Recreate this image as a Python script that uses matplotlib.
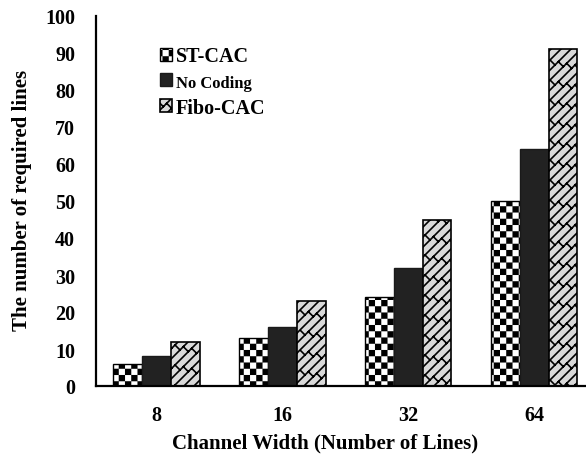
import numpy as np
import matplotlib
matplotlib.use("Agg")
import matplotlib.pyplot as plt
import matplotlib.hatch as mhatch
from matplotlib.path import Path

# data
widths = ["8", "16", "32", "64"]
st_cac = [6, 13, 24, 50]
no_coding = [8, 16, 32, 64]
fibo_cac = [12, 23, 45, 91]
series_names = ["ST-CAC", "No Coding", "Fibo-CAC"]


class CheckerHatch(mhatch.HatchPatternBase):
    """Checkerboard hatch, drawn for the '*' character."""
    inset = 0.008

    def __init__(self, hatch, density):
        n = hatch.count('*') * 16
        self.n = n
        self.num_vertices = 5 * (n * n // 2) if n else 0

    def set_vertices_and_codes(self, vertices, codes):
        n = self.n
        s = 1.0 / n
        a, b = self.inset, s - self.inset
        sq = np.array([[a, a], [b, a], [b, b], [a, b], [a, a]], dtype=float)
        sq_codes = [Path.MOVETO, Path.LINETO, Path.LINETO, Path.LINETO, Path.CLOSEPOLY]
        v_parts, c_parts = [], []
        for r in range(n):
            for c in range(r % 2, n, 2):
                v_parts.append(sq + [c * s, r * s])
                c_parts.append(sq_codes)
        vertices[:] = np.concatenate(v_parts)
        codes[:] = np.concatenate(c_parts)


class BrickHatch(mhatch.HatchPatternBase):
    """Diagonal brick hatch, drawn for the 'O' character."""

    def __init__(self, hatch, density):
        k = hatch.count('O')
        self.m = 10 * k   # '/' lines per unit
        self.p = 6 * k    # joints per unit along each gap
        if k:
            self.num_vertices = 2 * ((2 * self.m + 1) + 3 * self.m * self.p)
        else:
            self.num_vertices = 0

    def set_vertices_and_codes(self, vertices, codes):
        m, p = self.m, self.p
        g = 1.0 / m
        L = 1.0 / p
        v, c = [], []
        # long '/' lines  y = x + ci
        for i in range(-m, m + 1):
            ci = i * g
            v += [[0.0, ci], [1.0, 1.0 + ci]]
            c += [Path.MOVETO, Path.LINETO]
        # short '\' joints between neighbouring lines, staggered per gap
        for k in range(-m, 2 * m):
            ci = (k + 1) * g
            for j in range(p):
                x0 = j * L + (k % 2) * L / 2
                y0 = x0 + ci
                v += [[x0, y0], [x0 + g / 2, y0 - g / 2]]
                c += [Path.MOVETO, Path.LINETO]
        vertices[:] = np.array(v)
        codes[:] = np.array(c)


mhatch._hatch_types = [t for t in mhatch._hatch_types
                       if t not in (mhatch.Stars, mhatch.LargeCircles)] + [CheckerHatch, BrickHatch]

plt.rcParams['hatch.linewidth'] = 1.2
plt.rcParams['font.family'] = ['Liberation Serif', 'DejaVu Serif']

fig = plt.figure(figsize=(5.86, 4.6), dpi=100)
ax = fig.add_axes([96 / 586, 1 - 387 / 460, 1 - 96 / 586, 370 / 460])

x = np.arange(len(widths))
bw = 0.228
ax.bar(x - bw, st_cac, bw, color="white", edgecolor="black", hatch="*",
       linewidth=1.0, label=series_names[0])
ax.bar(x, no_coding, bw, color="#222222", edgecolor="#1a1a1a",
       linewidth=1.0, label=series_names[1])
ax.bar(x + bw, fibo_cac, bw, color="#d9d9d9", edgecolor="black", hatch="O",
       linewidth=1.2, label=series_names[2])

ax.set_xlim(-0.48, 3.41)
ax.set_ylim(0, 100)
ax.set_yticks(np.arange(0, 101, 10))
ax.set_xticks(x)
ax.set_xticklabels(widths)
ax.tick_params(axis="both", length=0, labelsize=14.5)
for lab in ax.get_xticklabels() + ax.get_yticklabels():
    lab.set_fontweight("bold")
ax.tick_params(axis="x", pad=14)
ax.tick_params(axis="y", pad=15)

for side in ["top", "right"]:
    ax.spines[side].set_visible(False)
ax.spines["left"].set_linewidth(1.6)
ax.spines["bottom"].set_linewidth(1.6)

ax.set_xlabel("Channel Width (Number of Lines)", fontsize=15, fontweight="bold")
ax.set_ylabel("The number of required lines", fontsize=15, fontweight="bold")
ax.xaxis.set_label_coords(0.468, -0.125)
ax.yaxis.set_label_coords(-0.13, 0.505)

leg = ax.legend(loc="upper left", bbox_to_anchor=(0.115, 0.94), frameon=False,
                handlelength=0.6, handleheight=0.6, handletextpad=0.15,
                labelspacing=0.35, borderaxespad=0,
                prop={"size": 14.5, "weight": "bold"})
leg.get_texts()[1].set_fontsize(12)

fig.savefig("out.png", dpi=100)
